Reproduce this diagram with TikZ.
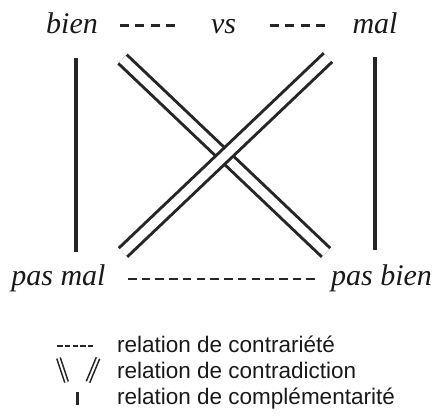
\documentclass[tikz,border=0pt]{standalone}
\usepackage{fontspec}
\setmainfont{Liberation Serif}
\newfontfamily\legendfont{Liberation Sans}
\begin{document}
\begin{tikzpicture}[x=1pt,y=-1pt,
  word/.style={font=\fontsize{30}{32}\selectfont\itshape, inner sep=0pt,
    text height=20pt, text depth=6pt, anchor=base, text=black!90},
  legtext/.style={font=\legendfont\fontsize{22.5}{26}\selectfont, inner sep=0pt,
    anchor=base west, text=black!90},
  contrary/.style={draw=black!85, line width=2.4pt, dash pattern=on 9pt off 6.33pt},
  contrarylong/.style={draw=black!85, line width=2.4pt, dash pattern=on 8.5pt off 5.23pt},
  complement/.style={draw=black!85, line width=3.8pt},
  contradict/.style={draw=black!85, line width=3pt, double=white, double distance=9pt},
  legcontradict/.style={draw=black!85, line width=1.6pt, double=white, double distance=2pt},
]
\useasboundingbox (0,0) rectangle (436,416);

% words of the square
\node[word] (bien)    at (72,33)    {bien};
\node[word] (vs)      at (223.5,33) {vs};
\node[word] (mal)     at (375,33)   {mal};
\node[word] (pasmal)  at (58.5,285) {pas mal};
\node[word] (pasbien) at (381.5,285) {pas bien};

% contrariety (dashed)
\draw[contrary] ([shift={(48,-0.5)}]bien.center) -- ([shift={(-48.5,-0.5)}]vs.center);
\draw[contrary] ([shift={(46.5,-0.5)}]vs.center) -- ([shift={(-50,-0.5)}]mal.center);
\draw[contrarylong] ([shift={(69.5,1)}]pasmal.center) -- ([shift={(-66.5,1)}]pasbien.center);

% complementarity (vertical bars)
\draw[complement] ([shift={(4,32)}]bien.center) -- ([shift={(17.5,-26)}]pasmal.center);
\draw[complement] ([shift={(0,31)}]mal.center) -- ([shift={(-6.5,-28)}]pasbien.center);

% contradiction (double diagonals)
\draw[contradict] ([shift={(50.5,33)}]bien.center) -- ([shift={(-55.5,-25.5)}]pasbien.center);
\draw[contradict] ([shift={(-47,31.5)}]mal.center) -- ([shift={(64.5,-25.5)}]pasmal.center);

% legend
\node[legtext] (l1) at (117,352) {relation de contrariété};
\node[legtext] (l2) at (117,378) {relation de contradiction};
\node[legtext] (l3) at (117,404) {relation de complémentarité};

\draw[draw=black!85, line width=2pt, dash pattern=on 5.6pt off 2.2pt] (57,345.5) -- (93,345.5);
\draw[legcontradict] (58.5,358) -- (66.5,382);
\draw[legcontradict] (98,358) -- (88,382);
\draw[draw=black!85, line width=2.4pt] (77.5,392) -- (77.5,405);
\end{tikzpicture}
\end{document}
